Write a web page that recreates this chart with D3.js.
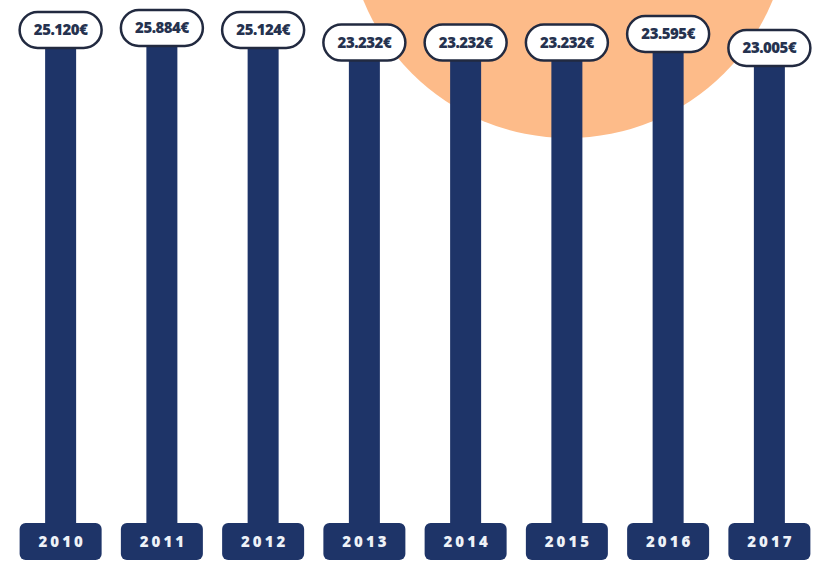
<!DOCTYPE html>
<html>
<head>
<meta charset="utf-8">
<script src="https://cdn.jsdelivr.net/npm/d3@7"></script>
<style>
  body { margin: 0; background: #ffffff; }
  text { font-family: "Open Sans", "DejaVu Sans", sans-serif; font-weight: 800; }
</style>
</head>
<body>
<div id="chart"></div>
<script>
var years = ["2010", "2011", "2012", "2013", "2014", "2015", "2016", "2017"];
var values = [25120, 25884, 25124, 23232, 23232, 23232, 23595, 23005];
var labels = ["25.120€", "25.884€", "25.124€", "23.232€", "23.232€", "23.232€", "23.595€", "23.005€"];

var svgWidth = 820;
var svgHeight = 563;

var navy = "#1e3468";
var orange = "#fdbb89";

var data = years.map(function(y, i) {
  return { year: y, value: values[i], label: labels[i] };
});

var svg = d3.select("#chart")
  .append("svg")
  .attr("width", svgWidth)
  .attr("height", svgHeight);

// decorative orange sun behind the bars
svg.append("circle")
  .attr("cx", 568)
  .attr("cy", -83)
  .attr("r", 221)
  .attr("fill", orange);

var xScale = d3.scaleBand()
  .domain(years)
  .range([10, 820]);

// the infographic is not drawn to scale, so the top of each bar is squeezed
var yScale = d3.scaleLinear()
  .domain([23005, 23595, 25884])
  .range([48, 34, 28]);

var baseY = 523;
var barWidth = 31;
var pillW = 82, pillH = 36;
var boxW = 82, boxH = 37;

var cx = function(d) { return xScale(d.year) + xScale.bandwidth() / 2; };

// bars
svg.selectAll(".bar")
  .data(data).enter()
  .append("rect")
  .attr("class", "bar")
  .attr("x", d => cx(d) - barWidth / 2)
  .attr("y", d => yScale(d.value))
  .attr("width", barWidth)
  .attr("height", d => baseY + 5 - yScale(d.value))
  .attr("fill", navy);

// value pills
var pills = svg.selectAll(".pill")
  .data(data).enter()
  .append("g")
  .attr("class", "pill")
  .attr("transform", d => `translate(${cx(d)}, ${yScale(d.value)})`);

pills.append("rect")
  .attr("x", -pillW / 2)
  .attr("y", -pillH / 2)
  .attr("width", pillW)
  .attr("height", pillH)
  .attr("rx", pillH / 2)
  .attr("fill", "#ffffff")
  .attr("stroke", "#222a40")
  .attr("stroke-width", 2.5);

pills.append("text")
  .attr("text-anchor", "middle")
  .attr("dy", "0.36em")
  .attr("font-size", 15)
  .attr("letter-spacing", -0.5)
  .attr("fill", "#25324f")
  .text(d => d.label);

// year boxes
var boxes = svg.selectAll(".yearBox")
  .data(data).enter()
  .append("g")
  .attr("class", "yearBox")
  .attr("transform", d => `translate(${cx(d)}, ${baseY})`);

boxes.append("rect")
  .attr("x", -boxW / 2)
  .attr("y", 0)
  .attr("width", boxW)
  .attr("height", boxH)
  .attr("rx", 6)
  .attr("fill", navy);

boxes.append("text")
  .attr("text-anchor", "middle")
  .attr("x", 1.5)
  .attr("y", boxH / 2)
  .attr("dy", "0.36em")
  .attr("font-size", 15)
  .attr("letter-spacing", 3)
  .attr("fill", "#eef2f8")
  .text(d => d.year);
</script>
</body>
</html>
